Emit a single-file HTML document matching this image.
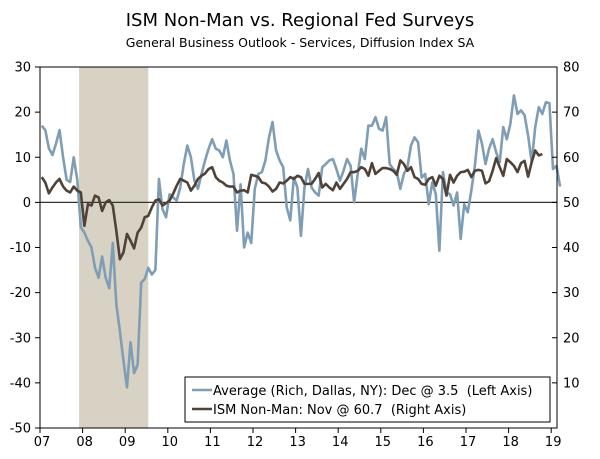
<!DOCTYPE html>
<html><head><meta charset="utf-8"><style>
body{margin:0;background:#fff;}
svg text{font-family:"DejaVu Sans","Liberation Sans",sans-serif;fill:#000;}
</style></head><body>
<svg width="600" height="454" viewBox="0 0 600 454" xmlns="http://www.w3.org/2000/svg">
<text x="300" y="26" font-size="18" text-anchor="middle">ISM Non-Man vs. Regional Fed Surveys</text>
<text x="300" y="47" font-size="12.5" text-anchor="middle">General Business Outlook - Services, Diffusion Index SA</text>
<g id="plot"></g>
</svg>
<script>
const avgValues=[17,16,12,10.5,13,16,10,5,4.5,10,5,-5.5,
-6.7,-8.5,-10,-14.5,-16.7,-12,-16.7,-19,-9,-22.6,-28.5,-35,-41,
-31,-37.8,-36,-17.8,-17,-14.5,-16,-15,5.2,-1.5,-3.3,1.8,1.1,0.4,
3.3,8.5,12.6,10,4.8,3,6.3,9.3,11.9,14,11.9,11.5,10,13.7,9.3,6.3,-6.3,4,-10,-6.7,-9,3,6.3,6.7,9.3,14.4,17.8,11.5,9.3,7.8,-1.1,-4,5.5,3.3,-7.4,3.3,7.4,
3.3,2.2,1.5,7.8,8.5,9.3,9.6,7.4,4.8,7,9.6,8.1,0,6.3,11.9,9.6,17,17,18.9,16.3,15.9,18.9,8.5,7.4,6.7,3,6.3,7.8,12.6,14.4,13.3,5.5,6.3,-0.4,4.4,1.8,-10.7,6.7,2.2,1.8,-0.7,2.2,-8.1,-0.4,-2.2,2.6,8.1,15.9,13,8.5,11.9,14,11.1,8.9,16.7,14,17.4,23.7,19.6,20.4,19.3,14.8,8.9,16.7,21.1,19.6,22.2,22,7.4,8.1,3.5];
const ismValues=[5.6,4.4,2,3.3,4.4,5.2,3.5,2.6,2.2,3.5,2.6,2.2,
-5.2,-0.4,-0.7,1.5,1.1,-1.9,0,0.5,-0.7,-6.3,-12.6,-11.1,
-7,-8.5,-10.2,-6.7,-5.6,-3.3,-3,-1.1,0.4,0.7,-0.7,-0.2,
0.4,1.9,3.7,5.2,4.8,4.4,2.6,3.7,5.2,5.9,6.4,7.4,7.8,5.6,4.8,4.4,3.7,3.5,3.5,2.2,2.6,2.7,2.2,6.1,5.9,5.6,4.4,4.2,3.5,2.4,3,4.4,4.2,4.8,5.6,5.2,
5.9,5.6,4.1,4.1,4.1,5.2,6.5,3.3,4.1,3.3,2.7,4.4,3,4.1,5.2,6.7,6.7,7,7.8,7.4,5.9,8.7,6.3,7,7.6,7.6,7.4,7,6.1,9.3,8.5,7,7.8,5.6,5.2,4.1,3.9,5.2,5.6,3.7,5.9,5.2,1.5,6.1,4.4,5.9,6.7,6.8,7.2,5.6,7,7.2,7,4.2,4.7,7,9.8,7.8,5.9,9.6,8.9,8.1,6.7,8.7,9.2,5.7,8.9,11.5,10.4,10.7].map(v=>v+50);
const leftTicks=[30,20,10,0,-10,-20,-30,-40,-50];
const rightTicks=[80,70,60,50,40,30,20,10];
const yearLabels=["07","08","09","10","11","12","13","14","15","16","17","18","19"];
const recession=[11,30.5];

const NS="http://www.w3.org/2000/svg";
const g=document.getElementById('plot');
const X0=40,X1=557,YT=67,YB=428;
const xm=i=>X0+i*3.55;
const yL=v=>YB-(v+50)/80*(YB-YT);
const yR=v=>YB-(v)/80*(YB-YT);
function mk(t,a,p){const e=document.createElementNS(NS,t);for(const k in a)e.setAttribute(k,a[k]);(p||g).appendChild(e);return e;}

const rec=mk('rect',{x:xm(recession[0]),y:YT,width:xm(recession[1])-xm(recession[0]),height:YB-YT,fill:'#d8d2c4'});



const zl=mk('line',{x1:X0,x2:X1,y1:yL(0),y2:yL(0),stroke:'#333','stroke-width':1.2});



const a=mk('polyline',{points:avgValues.map((v,i)=>xm(i+0.5)+','+yL(v)).join(' '),fill:'none',stroke:'#7f9db4','stroke-width':2.6,'stroke-linejoin':'round'});


const s=mk('polyline',{points:ismValues.map((v,i)=>xm(i+0.5)+','+yR(v)).join(' '),fill:'none',stroke:'#4f4238','stroke-width':2.6,'stroke-linejoin':'round'});



const fr=mk('rect',{x:X0,y:YT,width:X1-X0,height:YB-YT,fill:'none',stroke:'#000','stroke-width':1});



leftTicks.forEach(v=>{
 const y=yL(v);
 const t=mk('line',{x1:X0-5,x2:X0,y1:y,y2:y,stroke:'#000'});
 
 
 const l=mk('text',{x:X0-9,y:y+4.5,'font-size':13,'text-anchor':'end'});l.textContent=v;
 
 
});
rightTicks.forEach(v=>{
 const y=yR(v);
 const t=mk('line',{x1:X1-5,x2:X1,y1:y,y2:y,stroke:'#000'});
 
 
 const l=mk('text',{x:X1+6,y:y+4.5,'font-size':13});l.textContent=v;
 
 
});
yearLabels.forEach((lab,k)=>{
 const x=xm(k*12);
 const t=mk('line',{x1:x,x2:x,y1:YB,y2:YB+5,stroke:'#000'});
 
 
 const l=mk('text',{x:x+2,y:YB+18,'font-size':13,'text-anchor':'middle'});l.textContent=lab;
 
 
});

const lg=mk('g',{});


mk('rect',{x:185,y:377,width:365,height:45,fill:'#fff',stroke:'#000'},lg);
mk('line',{x1:192,x2:212,y1:390,y2:390,stroke:'#7f9db4','stroke-width':2.6},lg);
const t1=mk('text',{x:213,y:395,'font-size':13},lg);t1.textContent='Average (Rich, Dallas, NY): Dec @ 3.5  (Left Axis)';


t1.style.whiteSpace='pre';
mk('line',{x1:192,x2:212,y1:409,y2:409,stroke:'#4f4238','stroke-width':2.6},lg);
const t2=mk('text',{x:213,y:414,'font-size':13},lg);t2.textContent='ISM Non-Man: Nov @ 60.7  (Right Axis)';


t2.style.whiteSpace='pre';
</script>
</body></html>
